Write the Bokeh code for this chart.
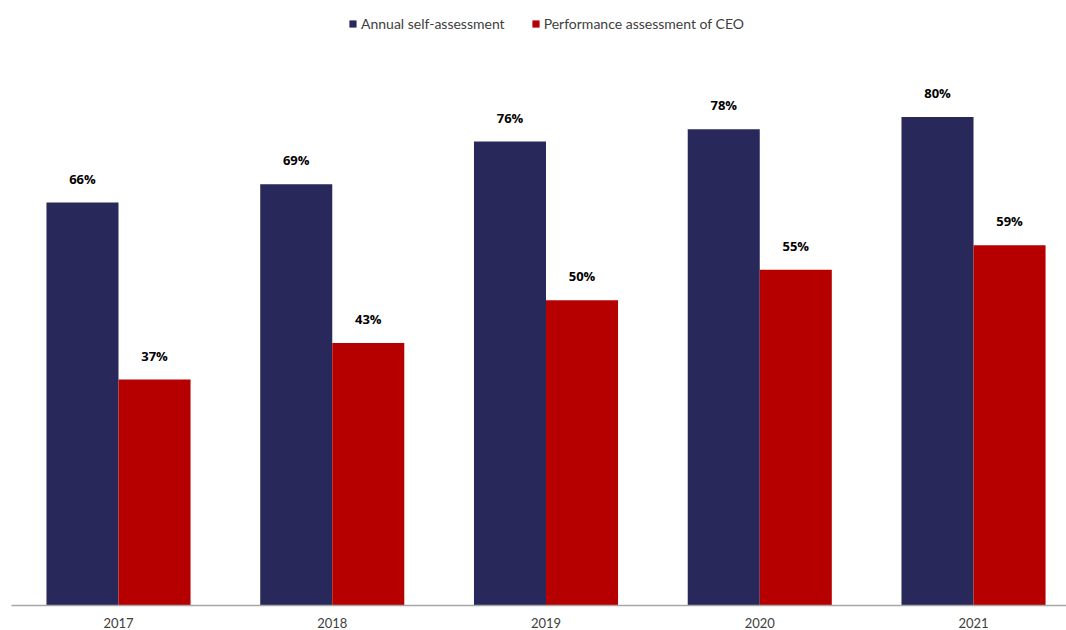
from bokeh.plotting import figure
from bokeh.models import ColumnDataSource, Range1d, LabelSet, Legend, LegendItem, FixedTicker
from bokeh.core.properties import value
from bokeh.transform import dodge
from bokeh.embed import file_html
from bokeh.resources import INLINE

years = ["2017", "2018", "2019", "2020", "2021"]
annual_self = [66, 69, 76, 78, 80]
ceo_perf = [37, 43, 50, 55, 59]

x = list(range(len(years)))
src = ColumnDataSource(dict(
    x=x,
    a=annual_self,
    c=ceo_perf,
    a_lbl=[f"{v}%" for v in annual_self],
    c_lbl=[f"{v}%" for v in ceo_perf],
))

NAVY = "#29285A"
RED = "#B60000"
FONT = "Lato"
BFONT = "Open Sans"

p = figure(width=1066, height=630, output_backend="svg", toolbar_location=None,
           x_range=Range1d(-0.5006, 4.435), y_range=Range1d(0, 99.1),
           y_axis_location=None, min_border_left=11, min_border_right=0,
           min_border_top=0, min_border_bottom=0)
p.outline_line_color = None
p.xgrid.visible = False
p.ygrid.visible = False
p.background_fill_color = "white"

bw = 0.337
r1 = p.vbar(x=dodge("x", -bw / 2), top="a", width=bw, source=src, color=NAVY, line_color=None)
r2 = p.vbar(x=dodge("x", bw / 2), top="c", width=bw, source=src, color=RED, line_color=None)

for col, lbl, off in (("a", "a_lbl", -bw / 2), ("c", "c_lbl", bw / 2)):
    ls = LabelSet(x=dodge("x", off), y=col, text=lbl, source=src, text_align="center",
                  text_baseline="alphabetic", y_offset=19, text_font=value(BFONT),
                  text_font_style="bold", text_font_size="13px", text_color="#000000")
    p.add_layout(ls)

ax = p.xaxis[0]
ax.ticker = FixedTicker(ticks=x)
ax.major_label_overrides = {i: y for i, y in enumerate(years)}
ax.major_tick_line_color = None
ax.minor_tick_line_color = None
ax.axis_line_color = "#A6A6A6"
ax.axis_line_width = 1.5
ax.major_label_text_font = FONT
ax.major_label_text_font_size = "13px"
ax.major_label_text_color = "#404040"
ax.major_label_standoff = 6

legend = Legend(items=[LegendItem(label="Annual self-assessment", renderers=[r1]),
                       LegendItem(label="Performance assessment of CEO", renderers=[r2])],
                orientation="horizontal", location=(337, 573),
                glyph_width=9, glyph_height=9, spacing=26,
                label_text_font=FONT, label_text_font_size="14px", label_text_color="#404040",
                border_line_color=None, background_fill_alpha=0, margin=0, padding=5,
                label_standoff=4)
p.add_layout(legend, "center")

open("out.html", "w").write(file_html(p, INLINE))
